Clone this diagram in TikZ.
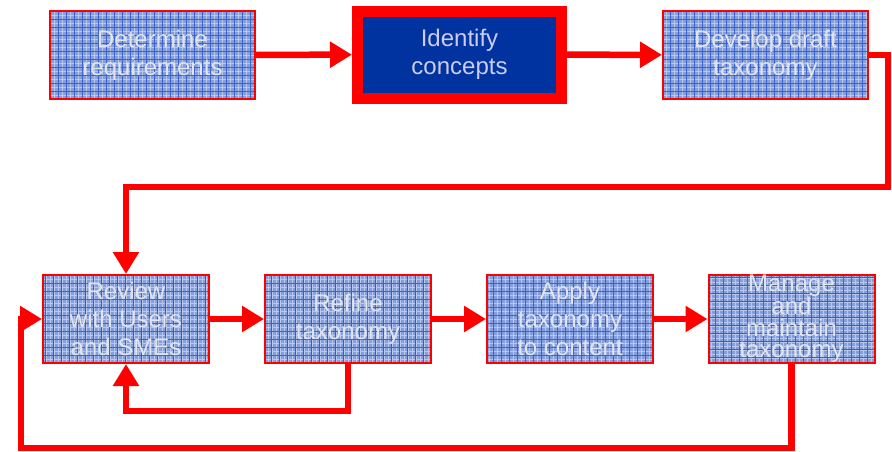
\documentclass[tikz,border=0pt]{standalone}
\usepackage{fontspec}
\setmainfont{Liberation Sans}
\usetikzlibrary{arrows.meta}
\definecolor{flowred}{RGB}{255,0,0}
\definecolor{gridbase}{RGB}{132,158,222}
\definecolor{gridline}{RGB}{40,82,200}
\definecolor{gridfine}{RGB}{220,228,248}
\definecolor{deepblue}{RGB}{0,51,160}
\definecolor{pale}{RGB}{226,228,236}
\tikzset{
  stage/.style={rectangle, draw=flowred, line width=2pt, minimum width=166pt,
    minimum height=88pt, inner sep=0pt, align=center, text=pale,
    font=\fontsize{24}{28}\selectfont,
    execute at begin node={\rule{0pt}{24pt}},
    path picture={
      \fill[gridbase] (path picture bounding box.south west) rectangle (path picture bounding box.north east);
      \draw[gridfine, line width=0.8pt, opacity=0.6, step=4pt]
        (path picture bounding box.south west) grid (path picture bounding box.north east);
      \draw[gridline, line width=1pt, opacity=0.85, step=8pt]
        (path picture bounding box.south west) grid (path picture bounding box.north east);
    }},
  widestage/.style={stage, minimum width=205pt},
  focus/.style={rectangle, draw=flowred, line width=11pt, fill=deepblue,
    minimum width=204pt, minimum height=87pt, inner sep=0pt, align=center,
    text=pale!90!blue, font=\fontsize{24}{28}\selectfont,
    execute at begin node={\rule{0pt}{24pt}}},
  flow/.style={draw=flowred, line width=6.5pt, -{Triangle[length=22pt,width=25pt]}},
}
\begin{document}
\begin{tikzpicture}[x=1pt,y=-1pt]
\useasboundingbox (0,0) rectangle (892,451);
% top row
\node[widestage] (req) at (152.5,55) {Determine\\requirements};
\node[focus] (ident) at (459.5,54.5) {Identify\\concepts};
\node[widestage] (draft) at (765.5,55) {Develop draft\\taxonomy};
% bottom row
\node[stage] (review) at (126,319) {Review\\with Users\\and SMEs};
\node[stage] (refine) at (348,319) {Refine\\taxonomy};
\node[stage] (apply) at (570,319) {Apply\\taxonomy\\to content};
\node[stage, font=\fontsize{24}{21.5}\selectfont] (manage) at (791.5,319) {Manage\\and\\maintain\\taxonomy};
% routing points
\coordinate (turnR) at (888,187);
\coordinate (loopA) at (126,411);
\coordinate (loopB) at (791.5,448);
\coordinate (loopC) at (21,448);
% forward flow
\draw[flow] (req) -- (ident);
\draw[flow] (ident) -- (draft);
\draw[flow] (draft.east) -| (turnR) -| (review.north);
\draw[flow] (review) -- (refine);
\draw[flow] (refine) -- (apply);
\draw[flow] (apply) -- (manage);
% feedback loops
\draw[flow] (refine.south) |- (loopA) -- (review.south);
\draw[flow] (manage.south) -- (loopB) -- (loopC) |- (review.west);
\end{tikzpicture}
\end{document}
